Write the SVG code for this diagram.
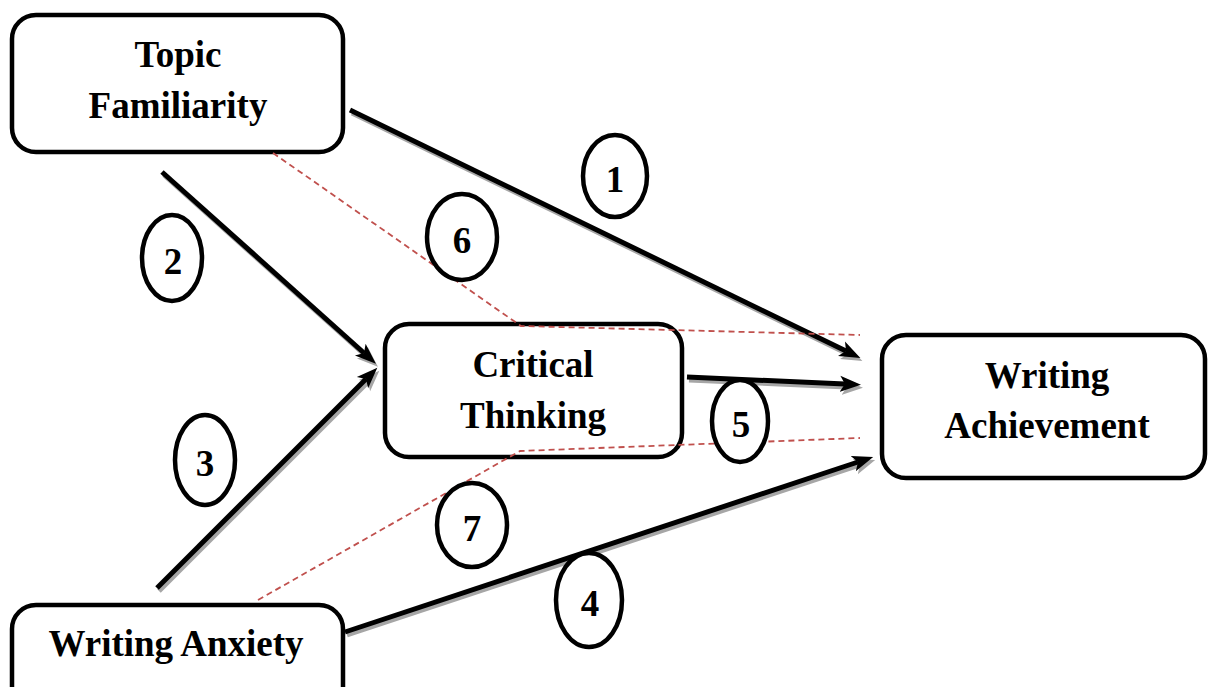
<svg xmlns="http://www.w3.org/2000/svg" width="1208" height="687" viewBox="0 0 1208 687">
<style>
.box{fill:#fff;stroke:#000;stroke-width:4.5}
.lbl{font-family:"Liberation Serif","Times New Roman",serif;font-weight:bold;font-size:37px;fill:#000;text-anchor:middle}
.arr{stroke:#000;stroke-width:5;fill:none;marker-end:url(#ah)}
.sh{stroke:#a6a6a6;stroke-width:5;fill:none;marker-end:url(#ahs)}
.dash{stroke:#c0504d;stroke-width:1.8;fill:none;stroke-dasharray:6 4}
.ell{fill:#fff;stroke:#000;stroke-width:4.5}
</style>
<defs>
<marker id="ah" markerUnits="userSpaceOnUse" markerWidth="24" markerHeight="18" refX="5" refY="8" orient="auto" viewBox="0 0 24 16">
<path d="M0,0 L21,8 L0,16 L5,8 z" fill="#000"/>
</marker>
<marker id="ahs" markerUnits="userSpaceOnUse" markerWidth="24" markerHeight="18" refX="5" refY="8" orient="auto" viewBox="0 0 24 16">
<path d="M0,0 L21,8 L0,16 L5,8 z" fill="#a6a6a6"/>
</marker>
</defs>
<g id="topic-familiarity">
<rect class="box" x="12" y="15" width="331" height="137" rx="24"/>
<text class="lbl" x="178" y="67">Topic</text>
<text class="lbl" x="178" y="118">Familiarity</text>
</g>
<g id="critical-thinking">
<rect class="box" x="385" y="324" width="297" height="133" rx="24"/>
<text class="lbl" x="533" y="377">Critical</text>
<text class="lbl" x="533" y="428">Thinking</text>
</g>
<g id="writing-achievement">
<rect class="box" x="882" y="335" width="323" height="143" rx="24"/>
<text class="lbl" x="1047" y="388">Writing</text>
<text class="lbl" x="1047" y="438">Achievement</text>
</g>
<g id="writing-anxiety">
<rect class="box" x="12" y="605" width="331" height="110" rx="24"/>
<text class="lbl" x="176" y="656">Writing Anxiety</text>
</g>
<g id="connectors">
<g transform="translate(2,3)">
<line class="sh" x1="350" y1="110" x2="846" y2="351"/>
<line class="sh" x1="162" y1="172" x2="364" y2="353"/>
<line class="sh" x1="157" y1="588" x2="366" y2="379"/>
<line class="sh" x1="687" y1="377" x2="845" y2="384"/>
<line class="sh" x1="345" y1="632" x2="858" y2="462"/>
</g>
<line class="arr" x1="350" y1="110" x2="846" y2="351"/>
<line class="arr" x1="162" y1="172" x2="364" y2="353"/>
<line class="arr" x1="157" y1="588" x2="366" y2="379"/>
<line class="arr" x1="687" y1="377" x2="845" y2="384"/>
<line class="arr" x1="345" y1="632" x2="858" y2="462"/>
<polyline class="dash" points="273,153 521,326 860,335"/>
<polyline class="dash" points="258,600 520,451 860,438"/>
</g>
<g id="label-1"><ellipse class="ell" cx="615" cy="176" rx="32" ry="41"/><text class="lbl" x="615" y="192">1</text></g>
<g id="label-2"><ellipse class="ell" cx="172" cy="258" rx="30" ry="43"/><text class="lbl" x="173" y="274">2</text></g>
<g id="label-3"><ellipse class="ell" cx="205" cy="460" rx="30" ry="45"/><text class="lbl" x="205" y="476">3</text></g>
<g id="label-4"><ellipse class="ell" cx="589" cy="600" rx="33" ry="47"/><text class="lbl" x="590" y="616">4</text></g>
<g id="label-5"><ellipse class="ell" cx="740" cy="421" rx="28" ry="41"/><text class="lbl" x="741" y="437">5</text></g>
<g id="label-6"><ellipse class="ell" cx="462" cy="237" rx="35" ry="43"/><text class="lbl" x="462" y="253">6</text></g>
<g id="label-7"><ellipse class="ell" cx="472" cy="525" rx="35" ry="42"/><text class="lbl" x="472" y="541">7</text></g>
</svg>
